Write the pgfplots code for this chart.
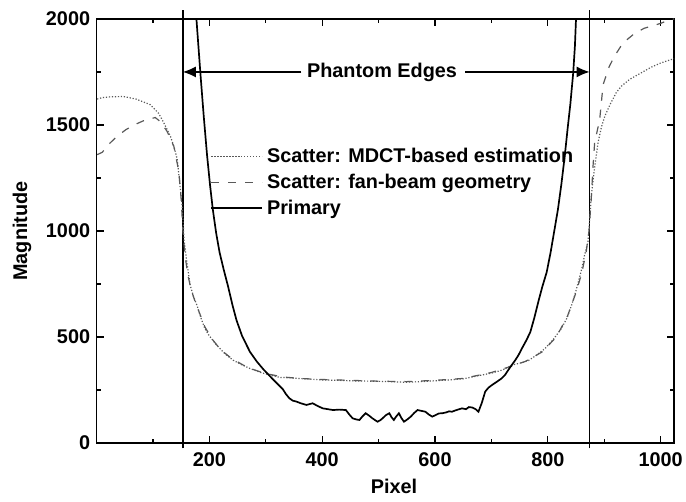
\documentclass[border=0pt]{standalone}
\usepackage{fontspec}
\setmainfont{Liberation Sans}
\usepackage{pgfplots}
\pgfplotsset{compat=1.18}
\usetikzlibrary{arrows.meta}
\newcommand{\chartfont}{\fontsize{20}{24}\selectfont\bfseries}

\begin{document}
\begin{tikzpicture}
\begin{axis}[
  scale only axis, width=580bp, height=426bp,
  at={(0,0)}, anchor=south west,
  xmin=0, xmax=1024, ymin=0, ymax=2000,
  xtick={200,400,...,1000}, ytick={0,500,...,2000},
  minor xtick={100,300,...,900}, minor ytick={250,750,...,1750},
  tick align=inside, xtick pos=both, ytick pos=both,
  major tick length=7bp, minor tick length=4bp,
  every tick/.style={black, line width=1.3bp},
  axis line style={black, line width=1.8bp},
  /pgf/number format/assume math mode=true,
  /pgf/number format/1000 sep={},
  ticklabel style={font=\chartfont},
  xticklabel style={yshift=-6bp},
  yticklabel style={xshift=-3bp},
  label style={font=\chartfont},
  xlabel={Pixel}, ylabel={Magnitude},
  xlabel style={at={(axis description cs:0.515,-0.103)}, anchor=center},
  ylabel style={at={(axis description cs:-0.129,0.5)}, anchor=center},
  clip=false,
  legend style={draw=none, fill=none, inner sep=0pt,
    at={(axis description cs:0.197,0.70)}, anchor=north west,
    font=\chartfont, nodes={inner sep=2bp}, row sep=6bp, column sep=2bp},
  legend cell align=left,
  legend image code/.code={\draw[#1] (0bp,0bp) -- (51bp,0bp);},
]
% phantom edges
\addplot[black, line width=1.6bp, forget plot] coordinates {(153,-25) (153,2042)};
\addplot[black, line width=1.6bp, forget plot] coordinates {(874,-25) (874,2042)};

% scatter: MDCT-based estimation
\addplot[black!65, line width=1.2bp, dash pattern=on 1.2bp off 1.8bp] coordinates {
(1,1622) (10,1629) (25,1633) (48,1634) (70,1622) (95,1596) (110,1555) (119,1511)
(131,1446) (138,1390) (143,1338) (148,1211) (152,1110) (155,960) (160,853)
(166,743) (172,690) (178,649) (185,590) (192,540) (200,505) (213,462) (228,420)
(242,391) (257,370) (272,352) (290,334) (307,321) (325,310) (342,308) (370,303)
(400,298) (430,296) (460,293) (490,292) (520,290) (548,287) (575,290) (600,294)
(625,298) (650,303) (677,318) (700,330) (720,345) (736,368) (752,378) (766,390)
(780,415) (795,446) (810,490) (824,540) (834,590) (842,649) (848,700) (854,759)
(860,820) (865,884) (871,947) (875,1080) (877,1166) (883,1300) (889,1416)
(895,1490) (901,1541) (911,1600) (921,1651) (930,1682) (945,1715) (965,1745)
(983,1772) (1000,1792) (1018,1808) (1024,1812)};
\addlegendentry{Scatter: MDCT-based estimation}

% scatter: fan-beam geometry
\addplot[black!65, line width=1.2bp, dash pattern=on 8bp off 9bp] coordinates {
(1,1360) (10,1371) (22,1410) (36,1446) (52,1478) (68,1502) (85,1522) (104,1535)
(113,1516) (125,1470) (137,1399) (146,1277) (150,1150) (153,1000) (157,880)
(162,790) (168,720) (175,665) (183,610) (192,548) (205,490) (220,440) (240,398)
(260,368) (280,345) (300,328) (330,312) (360,305) (400,300) (450,296) (500,292)
(550,290) (600,296) (650,305) (700,333) (730,358) (760,385) (790,430) (815,500)
(835,600) (850,710) (860,800) (868,900) (873,1000) (877,1150) (880,1300)
(883,1416) (892,1526) (898,1690) (909,1776) (918,1823) (933,1886) (954,1932)
(971,1956) (1000,1979) (1015,1995) (1024,2000)};
\addlegendentry{Scatter: fan-beam geometry}

% primary
\addplot[black, line width=1.7bp] coordinates {
(177,2000) (184,1745) (190,1540) (196,1353) (201,1220) (206,1103) (212,990)
(218,900) (225,822) (233,740) (241,650) (248,580) (258,505) (272,430) (284,385)
(295,350) (305,322) (313,300) (322,276) (330,255) (336,230) (342,211) (348,200)
(354,196) (362,188) (372,180) (383,188) (392,175) (401,164) (410,160) (419,156)
(430,158) (442,156) (448,135) (454,117) (460,112) (466,109) (472,128) (477,141)
(483,130) (489,117) (494,108) (498,101) (503,108) (507,117) (513,132) (519,141)
(523,122) (527,109) (531,125) (536,141) (540,120) (545,101) (551,112) (557,125)
(563,142) (569,156) (576,152) (583,148) (589,135) (595,125) (601,132) (607,140)
(613,141) (620,145) (625,150) (630,148) (637,155) (643,160) (648,164) (655,160)
(660,170) (666,168) (672,160) (677,148) (683,190) (689,243) (695,262) (701,274)
(710,290) (718,305) (724,321) (730,345) (736,368) (742,390) (748,415) (754,446)
(762,485) (769,524) (776,590) (783,665) (790,735) (798,806) (805,900) (812,1009)
(818,1103) (824,1220) (830,1353) (835,1480) (840,1600) (845,1745) (848,1870)
(850,2000)};
\addlegendentry{Primary}

\draw[black, line width=1.2bp, -{Latex[length=13bp,width=11bp]}]
  (axis cs:363,1750) -- (axis cs:153,1750);
\draw[black, line width=1.2bp, -{Latex[length=13bp,width=11bp]}]
  (axis cs:654,1750) -- (axis cs:874,1750);
\node[font=\chartfont] at (axis cs:506,1750) {Phantom Edges};
\end{axis}
\path[use as bounding box] (-97bp,-59bp) rectangle (589bp,445bp);
\end{tikzpicture}
\end{document}
